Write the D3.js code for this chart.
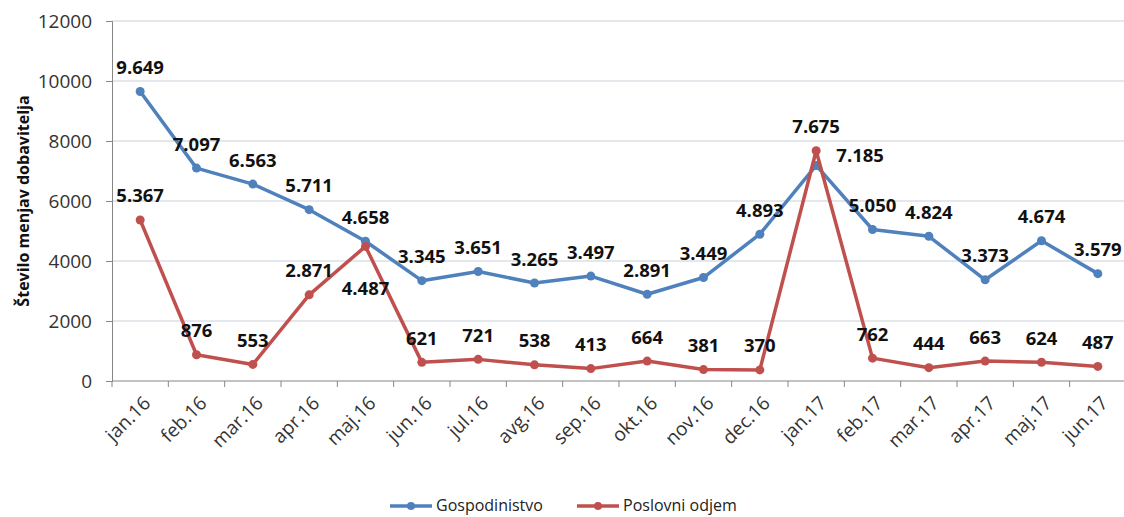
<!DOCTYPE html>
<html><head><meta charset="utf-8">
<script src="https://cdn.jsdelivr.net/npm/d3@7"></script>
<style>body{margin:0;background:#fff}svg{display:block}</style>
</head><body>
<svg id="c" width="1124" height="517"></svg>
<script>
const categories = ["jan.16","feb.16","mar.16","apr.16","maj.16","jun.16","jul.16","avg.16","sep.16","okt.16","nov.16","dec.16","jan.17","feb.17","mar.17","apr.17","maj.17","jun.17"];
const gospodinjstvo = [9649,7097,6563,5711,4658,3345,3651,3265,3497,2891,3449,4893,7185,5050,4824,3373,4674,3579];
const poslovni = [5367,876,553,2871,4487,621,721,538,413,664,381,370,7675,762,444,663,624,487];
const yTicks = [0,2000,4000,6000,8000,10000,12000];
const seriesNames = ["Gospodinistvo","Poslovni odjem"];
const yTitle = "Število menjav dobavitelja";

const blue = "#4F81BD", red = "#C0504D";
const svg = d3.select("#c");
const x = d3.scaleBand().domain(categories).range([112, 1126]);
const y = d3.scaleLinear().domain([0, 12000]).range([381, 21]);
const cx = d => x(d) + x.bandwidth()/2;
const loc = d3.formatLocale({decimal:",", thousands:".", grouping:[3], currency:["","€"]});
const fmt = loc.format(",d");

// gridlines
svg.append("g").selectAll("line").data(yTicks.filter(t=>t>0)).join("line")
  .attr("x1",112).attr("x2",1124).attr("y1",d=>y(d)).attr("y2",d=>y(d))
  .attr("stroke","#c9d0d9").attr("stroke-width",1);

// y axis
const ya = svg.append("g").attr("transform","translate(112,0)")
  .call(d3.axisLeft(y).tickValues(yTicks).tickSize(6).tickPadding(14).tickFormat(d3.format("d")));
ya.select(".domain").attr("stroke","#868686");
ya.selectAll(".tick line").attr("stroke","#868686");
ya.selectAll("text").attr("font-family","'Open Sans', sans-serif").attr("font-size",19).attr("fill","#333");

// x axis
const xa = svg.append("g").attr("transform","translate(0,381)");
xa.append("line").attr("x1",112).attr("x2",1124).attr("y1",0).attr("y2",0).attr("stroke","#868686");
xa.selectAll("line.t").data(categories).join("line").attr("class","t")
  .attr("x1",d=>x(d)).attr("x2",d=>x(d)).attr("y1",0).attr("y2",6).attr("stroke","#868686");
xa.selectAll("text").data(categories).join("text")
  .attr("transform",d=>`translate(${cx(d)+2},${14}) rotate(-45)`)
  .attr("text-anchor","end").attr("dy","0.7em")
  .attr("font-family","'Open Sans', sans-serif").attr("font-size",19).attr("fill","#333")
  .text(d=>d);

// y title
svg.append("text").attr("transform","translate(23,201) rotate(-90)")
  .attr("text-anchor","middle").attr("dominant-baseline","central")
  .attr("font-family","'Open Sans', sans-serif").attr("font-weight","bold").attr("font-size",16).attr("fill","#111")
  .text(yTitle);

const line = d3.line().x((d,i)=>cx(categories[i])).y(d=>y(d));
function drawSeries(vals, color){
  svg.append("path").datum(vals).attr("d",line).attr("fill","none").attr("stroke",color)
    .attr("stroke-width",3.5).attr("stroke-linejoin","round");
  svg.append("g").selectAll("circle").data(vals).join("circle")
    .attr("cx",(d,i)=>cx(categories[i])).attr("cy",d=>y(d)).attr("r",4.5).attr("fill",color);
}
drawSeries(gospodinjstvo, blue);
drawSeries(poslovni, red);

// data labels: default above the point; a few placed elsewhere
const labelPlace = {"b12":[44,-11], "r4":[0,41]};
function drawLabels(vals, key){
  svg.append("g").selectAll("text").data(vals).join("text")
    .attr("x",(d,i)=>cx(categories[i]) + (labelPlace[key+i]||[0,-25])[0])
    .attr("y",(d,i)=>y(d) + (labelPlace[key+i]||[0,-25])[1])
    .attr("text-anchor","middle").attr("dominant-baseline","central")
    .attr("font-family","'Open Sans', sans-serif").attr("font-weight","bold").attr("font-size",18.5).attr("fill","#111")
    .text(d=>fmt(d));
}
drawLabels(gospodinjstvo,"b");
drawLabels(poslovni,"r");

// legend
const leg = [[390, blue, seriesNames[0]],[577, red, seriesNames[1]]];
const lg = svg.append("g");
leg.forEach(([lx,col,name])=>{
  lg.append("line").attr("x1",lx).attr("x2",lx+42).attr("y1",506).attr("y2",506).attr("stroke",col).attr("stroke-width",3.5);
  lg.append("circle").attr("cx",lx+21).attr("cy",506).attr("r",4).attr("fill",col);
  lg.append("text").attr("x",lx+46).attr("y",505).attr("dominant-baseline","central")
    .attr("font-family","'Open Sans', sans-serif").attr("font-size",16).attr("fill","#222").text(name);
});
</script>
</body></html>
